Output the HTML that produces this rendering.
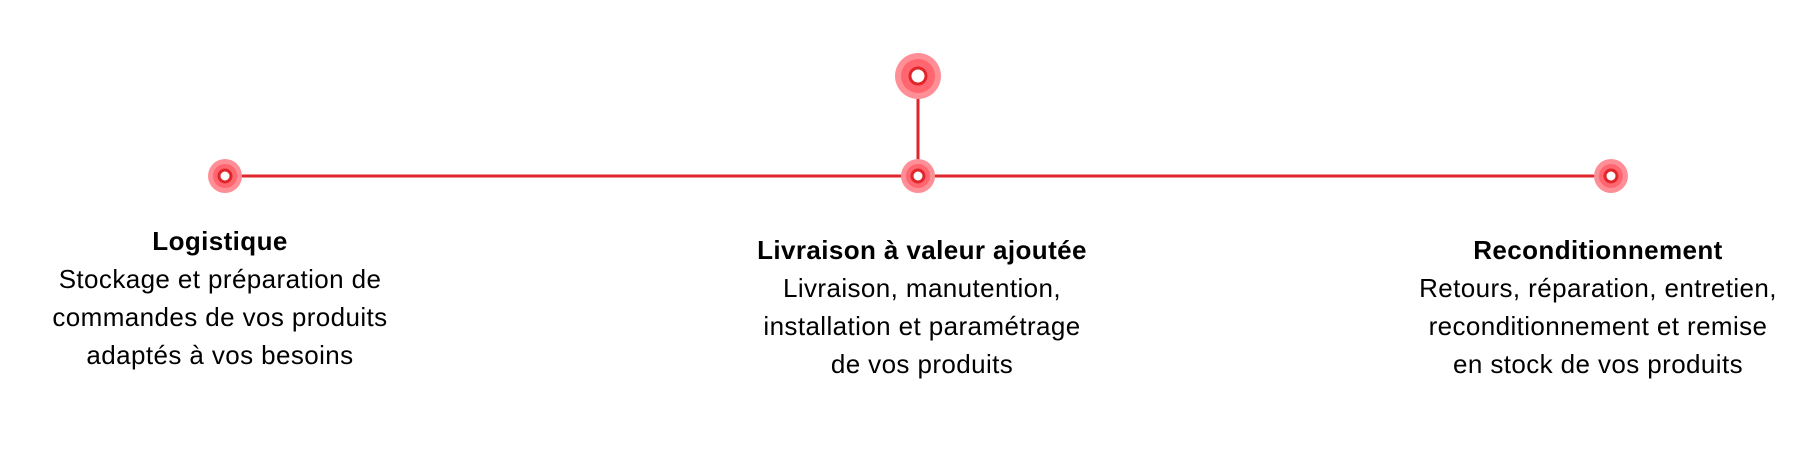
<!DOCTYPE html>
<html><head><meta charset="utf-8"><style>
body{margin:0;width:1800px;height:450px;background:#fff;position:relative;overflow:hidden;font-family:"Liberation Sans",sans-serif;color:#000}
.t{position:absolute;width:480px;text-align:center;font-size:26px;line-height:38px;letter-spacing:0.4px}
.t b{font-weight:bold}
</style></head><body>
<svg width="1800" height="450" style="position:absolute;left:0;top:0">
<line x1="225" y1="176" x2="1611" y2="176" stroke="#e0262b" stroke-width="3"/>
<line x1="918" y1="76" x2="918" y2="176" stroke="#e0262b" stroke-width="3"/>
<g fill="#ff8f96"><circle cx="225" cy="176" r="17"/><circle cx="918" cy="176" r="17"/><circle cx="1611" cy="176" r="17"/><circle cx="918" cy="76" r="23"/></g>
<g fill="#ff6670"><circle cx="225" cy="176" r="12"/><circle cx="918" cy="176" r="12"/><circle cx="1611" cy="176" r="12"/><circle cx="918" cy="76" r="17"/></g>
<g fill="#fff" stroke="#e0262b" stroke-width="3"><circle cx="225" cy="176" r="6"/><circle cx="918" cy="176" r="6"/><circle cx="1611" cy="176" r="6"/><circle cx="918" cy="76" r="8"/></g>
</svg>
<div class="t" style="left:-20px;top:222px"><b>Logistique</b><br>Stockage et préparation de<br>commandes de vos produits<br>adaptés à vos besoins</div>
<div class="t" style="left:682px;top:231px"><b>Livraison à valeur ajoutée</b><br>Livraison, manutention,<br>installation et paramétrage<br>de vos produits</div>
<div class="t" style="left:1358px;top:231px"><b>Reconditionnement</b><br>Retours, réparation, entretien,<br>reconditionnement et remise<br>en stock de vos produits</div>
</body></html>
